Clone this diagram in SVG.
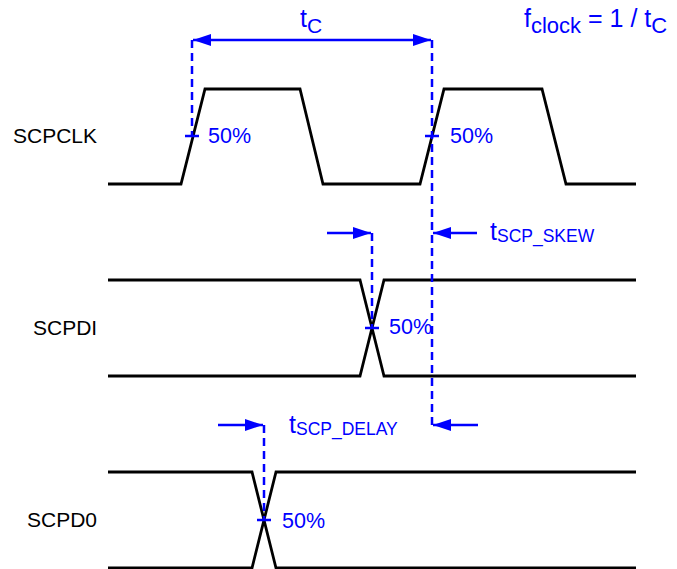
<svg xmlns="http://www.w3.org/2000/svg" width="677" height="569" viewBox="0 0 677 569">
<style>
.sig{fill:none;stroke:#000;stroke-width:2.8;stroke-linejoin:miter}
.dash{fill:none;stroke:#0000ff;stroke-width:2.5;stroke-dasharray:8,5}
.bl{fill:none;stroke:#0000ff;stroke-width:2.5}
.lbl{font-family:"Liberation Sans",Arial,sans-serif;font-size:21px;fill:#000}
.bt{font-family:"Liberation Sans",Arial,sans-serif;font-size:21.5px;fill:#0000ff}
.big{font-size:25px}
.sub{font-size:17.5px}
</style>
<defs>
<marker id="ah" viewBox="0 0 18 12" refX="18" refY="6" markerWidth="18" markerHeight="12" markerUnits="userSpaceOnUse" orient="auto-start-reverse">
<path d="M0,0 L18,6 L0,12 Z" fill="#0000ff"/>
</marker>
</defs>
<g id="scpclk">
<text class="lbl" x="13" y="143">SCPCLK</text>
<polyline class="sig" points="108,184 181,184 205,89 300,89 323,184 420,184 444,89 542,89 566,184 636,184"/>
</g>
<g id="scpdi">
<text class="lbl" x="33" y="335">SCPDI</text>
<polyline class="sig" points="108,280 360,280 384,376 636,376"/>
<polyline class="sig" points="108,376 360,376 384,280 636,280"/>
</g>
<g id="scpd0">
<text class="lbl" x="27" y="527">SCPD0</text>
<polyline class="sig" points="108,472 252,472 276,568 636,568"/>
<polyline class="sig" points="108,568 252,568 276,472 636,472"/>
</g>
<g id="connectors">
<line class="dash" x1="192" y1="40" x2="192" y2="137"/>
<line class="dash" x1="432" y1="40" x2="432" y2="425"/>
<line class="bl" x1="193" y1="40" x2="431" y2="40" marker-start="url(#ah)" marker-end="url(#ah)"/>
<line class="bl" x1="185" y1="136" x2="199" y2="136"/>
<line class="bl" x1="425" y1="136" x2="439" y2="136"/>
<line class="dash" x1="372" y1="233" x2="372" y2="328"/>
<line class="bl" x1="365" y1="328" x2="379" y2="328"/>
<line class="bl" x1="327" y1="233" x2="371" y2="233" marker-end="url(#ah)"/>
<line class="bl" x1="477" y1="233" x2="433" y2="233" marker-end="url(#ah)"/>
<line class="dash" x1="264" y1="425" x2="264" y2="520"/>
<line class="bl" x1="257" y1="520" x2="271" y2="520"/>
<line class="bl" x1="218" y1="425" x2="263" y2="425" marker-end="url(#ah)"/>
<line class="bl" x1="478" y1="425" x2="433" y2="425" marker-end="url(#ah)"/>
</g>
<g id="labels">
<text class="bt" x="208" y="143">50%</text>
<text class="bt" x="450" y="143">50%</text>
<text class="bt" x="389" y="334">50%</text>
<text class="bt" x="282" y="528">50%</text>
<text class="bt big" x="300" y="27">t<tspan font-size="21px" dy="6">C</tspan></text>
<text class="bt big" x="524" y="27" font-size="26px">f<tspan font-size="22px" dy="6">clock</tspan><tspan dy="-6"> = 1 / t</tspan><tspan font-size="22px" dy="6">C</tspan></text>
<text class="bt big" x="490" y="240">t<tspan class="sub" dy="2">SCP_SKEW</tspan></text>
<text class="bt big" x="289" y="433">t<tspan class="sub" dy="2">SCP_DELAY</tspan></text>
</g>
</svg>
